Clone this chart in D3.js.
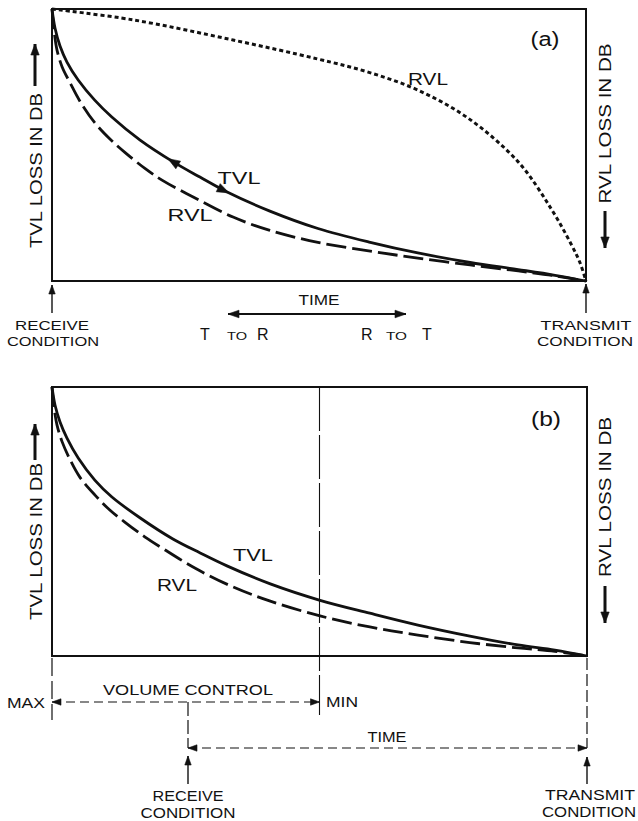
<!DOCTYPE html>
<html>
<head>
<meta charset="utf-8">
<script src="https://cdn.jsdelivr.net/npm/d3@7/dist/d3.min.js"></script>
<style>
  html, body { margin: 0; padding: 0; background: #fff; }
  svg { display: block; }
  text { font-family: "Liberation Sans", Arial, sans-serif; fill: #111; }
</style>
</head>
<body>
<svg id="chart" width="638" height="821"></svg>
<script>
// ---------------- DATA (time 0..100 %, loss 0..100 % of range) ----------------
// Panel (a)
const timeA_TVL = [0, 0.56, 1.5, 2.8, 4.9, 8.0, 11.2, 16.5, 22.7, 27.7, 32.8, 40.8, 49.8, 59.6, 68.5, 78.3, 87.3, 94.2, 100];
const lossA_TVL = [100, 93.0, 86.4, 80.5, 73.9, 66.5, 60.3, 51.8, 43.8, 38.2, 32.7, 25.7, 19.3, 14.2, 10.3, 6.8, 4.2, 2.1, 0];
const timeA_RVL = [0, 0.37, 0.94, 1.9, 3.4, 5.2, 8.0, 10.9, 13.7, 17.4, 20.6, 26.8, 33.9, 40.8, 49.8, 59.6, 68.5, 78.3, 87.3, 94.2, 100];
const lossA_RVL = [100, 92.3, 84.9, 78.7, 72.8, 66.2, 58.2, 52.1, 47.2, 41.4, 37.1, 30.5, 23.5, 18.6, 14.2, 11.0, 8.4, 5.9, 3.7, 1.9, 0];
const timeA_RVLrx = [0, 15.2, 33.9, 49.8, 59.2, 68.5, 77.9, 87.3, 93.4, 97.2, 98.9, 100];
const lossA_RVLrx = [100, 96.0, 88.6, 81.6, 76.8, 70.2, 59.9, 43.8, 26.8, 13.6, 6.6, 0];
// Panel (b)
const timeB_TVL = [0, 0.56, 1.5, 2.8, 4.9, 8.0, 11.2, 16.5, 22.6, 27.7, 32.7, 40.8, 50.1, 59.4, 68.4, 78.1, 87.1, 94.0, 100];
const lossB_TVL = [100, 93.3, 87.0, 81.0, 73.6, 65.4, 59.1, 51.3, 43.5, 38.3, 33.5, 26.8, 20.7, 15.9, 11.5, 7.4, 4.1, 2.2, 0];
const timeB_RVL = [0, 0.37, 0.93, 1.9, 3.4, 5.2, 8.0, 10.8, 13.6, 17.4, 20.6, 26.7, 33.8, 40.8, 50.1, 59.4, 68.4, 78.1, 87.1, 94.0, 100];
const lossB_RVL = [100, 92.6, 85.9, 79.6, 72.9, 66.5, 59.9, 54.3, 49.8, 44.2, 40.1, 32.7, 25.7, 20.4, 14.9, 10.8, 7.8, 5.0, 3.0, 1.7, 0];
const volumeControlSetting = 50; // MIN position on the time axis of panel (b)

const labelsA = { panel: "(a)", tvl: "TVL", rvl: "RVL", rvlRx: "RVL" };
const labelsB = { panel: "(b)", tvl: "TVL", rvl: "RVL" };
const yLabelLeft = "TVL LOSS IN DB";
const yLabelRight = "RVL LOSS IN DB";

// ---------------- SETUP ----------------
const svg = d3.select("#chart");
const ink = "#111";

const xA = d3.scaleLinear().domain([0, 100]).range([52, 586]);
const yA = d3.scaleLinear().domain([0, 100]).range([281, 9]);
const xB = d3.scaleLinear().domain([0, 100]).range([52, 587]);
const yB = d3.scaleLinear().domain([0, 100]).range([656, 387]);

function zip(xs, ys) { return xs.map((x, i) => [x, ys[i]]); }

function arrowHead(g, tx, ty, ang, len, hw) {
  const bx = tx - len * Math.cos(ang), by = ty - len * Math.sin(ang);
  const px = -Math.sin(ang) * hw, py = Math.cos(ang) * hw;
  g.append("path")
    .attr("d", `M${tx},${ty}L${bx + px},${by + py}L${bx - px},${by - py}Z`)
    .attr("fill", ink).attr("stroke", ink).attr("stroke-width", 0.6)
    .attr("stroke-linejoin", "miter");
}

function arrowLine(g, x1, y1, x2, y2, opts) {
  const o = Object.assign({ width: 1.3, dash: null, head2: true, head1: false, len: 9, hw: 3.2 }, opts || {});
  const ang = Math.atan2(y2 - y1, x2 - x1);
  const l = g.append("line").attr("x1", x1).attr("y1", y1).attr("x2", x2).attr("y2", y2)
    .attr("stroke", ink).attr("stroke-width", o.width);
  if (o.dash) l.attr("stroke-dasharray", o.dash);
  if (o.head2) arrowHead(g, x2, y2, ang, o.len, o.hw);
  if (o.head1) arrowHead(g, x1, y1, ang + Math.PI, o.len, o.hw);
}

function label(g, txt, x, y, size, width, anchor) {
  const t = g.append("text").attr("x", x).attr("y", y).attr("font-size", size)
    .attr("text-anchor", anchor || "middle").text(txt);
  if (width) t.attr("textLength", width).attr("lengthAdjust", "spacingAndGlyphs");
  return t;
}

function rotLabel(g, txt, cx, baseX, size, len) {
  g.append("text")
    .attr("transform", `translate(${baseX},${cx}) rotate(-90)`)
    .attr("font-size", size).attr("text-anchor", "middle")
    .attr("textLength", len).attr("lengthAdjust", "spacingAndGlyphs")
    .text(txt);
}

function drawCurve(g, x, y, xs, ys, dash, width) {
  const line = d3.line().x(d => x(d[0])).y(d => y(d[1])).curve(d3.curveCatmullRom.alpha(0.5));
  const p = g.append("path").datum(zip(xs, ys))
    .attr("d", line).attr("fill", "none").attr("stroke", ink)
    .attr("stroke-width", width || 2.8).attr("stroke-linecap", "butt");
  if (dash) p.attr("stroke-dasharray", dash);
  return p;
}

function pointOnPathAtX(pathNode, px) {
  const L = pathNode.getTotalLength();
  let lo = 0, hi = L;
  for (let i = 0; i < 40; i++) {
    const mid = (lo + hi) / 2;
    if (pathNode.getPointAtLength(mid).x < px) lo = mid; else hi = mid;
  }
  const l = (lo + hi) / 2;
  const p = pathNode.getPointAtLength(l);
  const a = pathNode.getPointAtLength(Math.max(0, l - 2));
  const b = pathNode.getPointAtLength(Math.min(L, l + 2));
  return { x: p.x, y: p.y, ang: Math.atan2(b.y - a.y, b.x - a.x) };
}

// ---------------- PANEL (a) ----------------
const gA = svg.append("g");
gA.append("rect")
  .attr("x", xA(0)).attr("y", yA(100))
  .attr("width", xA(100) - xA(0)).attr("height", yA(0) - yA(100))
  .attr("fill", "none").attr("stroke", ink).attr("stroke-width", 2);

drawCurve(gA, xA, yA, timeA_RVLrx, lossA_RVLrx, "4,3", 3);
drawCurve(gA, xA, yA, timeA_RVL, lossA_RVL, "20,6", 2.8);
const tvlA = drawCurve(gA, xA, yA, timeA_TVL, lossA_TVL, null, 2.8);

// direction arrows on the TVL curve
const pL = pointOnPathAtX(tvlA.node(), 168);
arrowHead(gA, pL.x, pL.y, pL.ang + Math.PI, 12, 4.5);
const pR = pointOnPathAtX(tvlA.node(), 229);
arrowHead(gA, pR.x, pR.y, pR.ang, 12, 4.5);

label(gA, labelsA.panel, 545, 46, 20, 29);
label(gA, labelsA.rvlRx, 428, 85, 17, 40);
label(gA, labelsA.tvl, 239, 184, 17, 43);
label(gA, labelsA.rvl, 190, 221, 17, 45);

rotLabel(gA, yLabelLeft, 170.5, 42, 16, 155);
arrowLine(gA, 35, 86, 35, 44, { width: 3, len: 11, hw: 4.2 });
rotLabel(gA, yLabelRight, 123.5, 611, 16, 160);
arrowLine(gA, 605, 211, 605, 248, { width: 3, len: 11, hw: 4.2 });

// condition arrows under axis
arrowLine(gA, xA(0), 313, xA(0), 285, { width: 1.4, len: 9, hw: 3.2 });
arrowLine(gA, xA(100), 313, xA(100), 284, { width: 1.4, len: 9, hw: 3.2 });
label(gA, "RECEIVE", 52, 330, 13.5, 74);
label(gA, "CONDITION", 53, 346, 13.5, 92);
label(gA, "TRANSMIT", 586, 330, 13.5, 91);
label(gA, "CONDITION", 585, 346, 13.5, 96);

label(gA, "TIME", 319, 305, 14, 41);
arrowLine(gA, 228, 314, 406, 314, { width: 1.8, head1: true, len: 11, hw: 3.8 });
label(gA, "T", 200, 340, 16, null, "start");
label(gA, "TO", 227, 340, 11, 20, "start");
label(gA, "R", 257, 340, 16, null, "start");
label(gA, "R", 361, 340, 16, null, "start");
label(gA, "TO", 386, 340, 11, 21, "start");
label(gA, "T", 422, 340, 16, null, "start");

// ---------------- PANEL (b) ----------------
const gB = svg.append("g");
gB.append("rect")
  .attr("x", xB(0)).attr("y", yB(100))
  .attr("width", xB(100) - xB(0)).attr("height", yB(0) - yB(100))
  .attr("fill", "none").attr("stroke", ink).attr("stroke-width", 2);

// volume control minimum marker
gB.append("line").attr("x1", xB(volumeControlSetting)).attr("x2", xB(volumeControlSetting))
  .attr("y1", yB(100)).attr("y2", 715)
  .attr("stroke", ink).attr("stroke-width", 1.1).attr("stroke-dasharray", "44,4");

drawCurve(gB, xB, yB, timeB_RVL, lossB_RVL, "20,6", 2.8);
drawCurve(gB, xB, yB, timeB_TVL, lossB_TVL, null, 2.8);

label(gB, labelsB.panel, 546, 426, 20, 30);
label(gB, labelsB.tvl, 253, 561, 17, 40);
label(gB, labelsB.rvl, 177, 591, 17, 40);

rotLabel(gB, yLabelLeft, 541.5, 42, 16, 157);
arrowLine(gB, 35, 460, 35, 424, { width: 3, len: 11, hw: 4.2 });
rotLabel(gB, yLabelRight, 497, 611, 16, 160);
arrowLine(gB, 605, 586, 605, 623, { width: 3, len: 11, hw: 4.2 });

// under-axis annotations
gB.append("line").attr("x1", xB(0)).attr("x2", xB(0)).attr("y1", 658).attr("y2", 720)
  .attr("stroke", ink).attr("stroke-width", 1.2).attr("stroke-dasharray", "18,5");
arrowLine(gB, xB(0), 702, xB(volumeControlSetting), 702, { width: 1.2, dash: "9,5", head1: true, len: 9, hw: 3.2 });
label(gB, "MAX", 45, 708, 14, 38, "end");
label(gB, "MIN", 326, 707, 14, 32, "start");
label(gB, "VOLUME CONTROL", 188, 695, 14, 170);

const rxX = 188;
gB.append("line").attr("x1", rxX).attr("x2", rxX).attr("y1", 702).attr("y2", 748)
  .attr("stroke", ink).attr("stroke-width", 1.2).attr("stroke-dasharray", "14,4");
gB.append("line").attr("x1", xB(100)).attr("x2", xB(100)).attr("y1", 658).attr("y2", 748)
  .attr("stroke", ink).attr("stroke-width", 1.2).attr("stroke-dasharray", "12,4");
arrowLine(gB, rxX, 748, xB(100), 748, { width: 1.2, dash: "9,5", head1: true, len: 9, hw: 3.2 });
label(gB, "TIME", 387, 742, 14, 39);

arrowLine(gB, rxX, 784, rxX, 756, { width: 1.4, len: 9, hw: 3.2 });
arrowLine(gB, xB(100), 784, xB(100), 757, { width: 1.4, len: 9, hw: 3.2 });
label(gB, "RECEIVE", 188, 801, 14.5, 71);
label(gB, "CONDITION", 188, 818, 14.5, 95);
label(gB, "TRANSMIT", 590, 800, 14.5, 90);
label(gB, "CONDITION", 589, 817, 14.5, 94);
</script>
</body>
</html>
